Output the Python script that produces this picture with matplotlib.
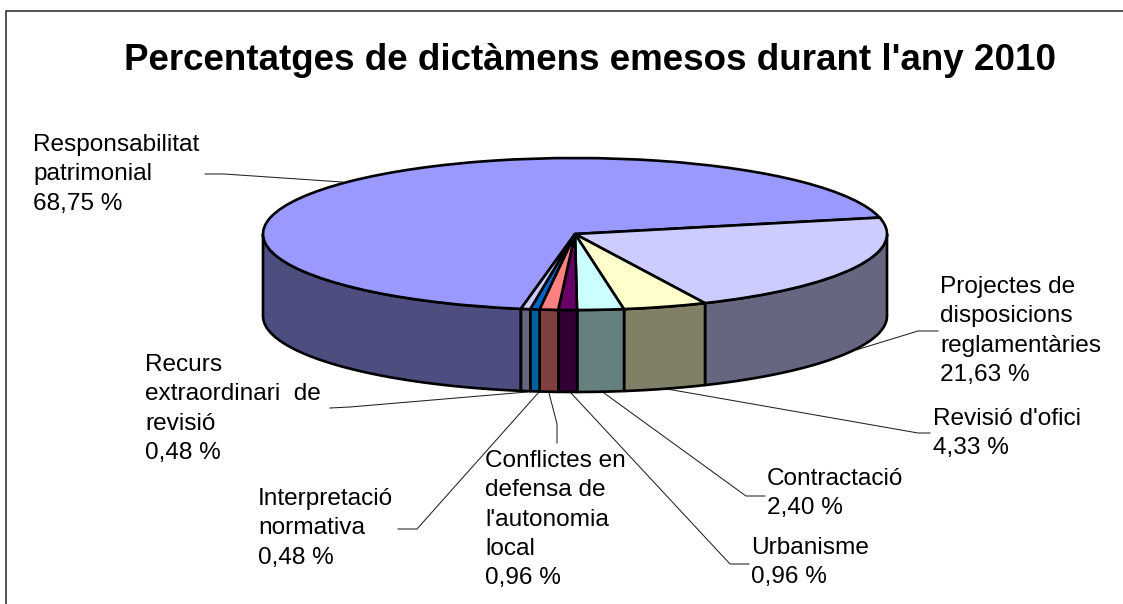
import numpy as np
import matplotlib
matplotlib.use("Agg")
import matplotlib.pyplot as plt
from matplotlib.lines import Line2D

# ---- data ----
title = "Percentatges de dictàmens emesos durant l'any 2010"
categories = ["Responsabilitat\npatrimonial", "Projectes de\ndisposicions\nreglamentàries",
              "Revisió d'ofici", "Contractació", "Urbanisme",
              "Conflictes en\ndefensa de\nl'autonomia\nlocal",
              "Interpretació\nnormativa", "Recurs\nextraordinari  de\nrevisió"]
values = [68.75, 21.63, 4.33, 2.40, 0.96, 0.96, 0.48, 0.48]

# ---- style / layout (pixels) ----
W, H = 1123, 604
top_colors = ["#9999FF", "#CCCCFF", "#FFFFCC", "#CCFFFF", "#660066", "#FF8080", "#0066CC", "#CCCCFF"]
side_colors = ["#4D4D80", "#666680", "#808066", "#668080", "#330033", "#804040", "#005F9F", "#666680"]
CX, CY, RX, RY, DEPTH = 575, 234, 312, 76, 82
START = 260
label_pos = [(33, 134), (940, 276), (933, 408), (767, 468), (751, 537), (485, 450), (258, 488), (145, 354)]
leaders = [
    [(205, 174), (224, 174), (342, 182)],
    [(938, 331), (918, 331), (856, 350)],
    [(930, 433), (918, 433), (667, 389)],
    [(765, 496), (746, 496), (604, 393)],
    [(749, 564), (730, 564), (571, 393)],
    [(557, 443), (557, 424), (549, 393)],
    [(398, 529), (417, 529), (539, 392)],
    [(330, 408), (350, 407), (527, 392)],
]

fig = plt.figure(figsize=(W / 100, H / 100), dpi=100, facecolor="white")
ax = fig.add_axes([0, 0, 1, 1])

def px(x, y):
    return (x - CX) / RX, (CY - y) / RY

lw_heavy = 1.9
d = DEPTH / RY

# top face, drawn by the library's pie from the values
ax.pie(values, colors=top_colors, startangle=START, counterclock=False,
       wedgeprops=dict(edgecolor="black", linewidth=lw_heavy), radius=1.0, center=(0, 0),
       normalize=True)
for w in ax.patches:
    w.set_zorder(5)
ax.set_aspect("auto")
ax.set_xlim(px(0, 0)[0], px(W, 0)[0])
ax.set_ylim(px(0, H)[1], px(0, 0)[1])
ax.axis("off")

# front wall: each slice's arc within the visible 180-360 degree half
edges = START - np.cumsum([0] + values) * 3.6
for i in range(len(values)):
    a1, a0 = edges[i], edges[i + 1]  # clockwise from a1 to a0
    if a1 < 0 or a0 < 0:
        lo_n, hi_n = a0 + 360, a1 + 360
    else:
        lo_n, hi_n = a0, a1
    hi_n = min(hi_n, 360)
    lo_n = max(lo_n, 180)
    if hi_n <= lo_n:
        continue
    t = np.radians(np.linspace(lo_n, hi_n, 120))
    xs = np.r_[np.cos(t), np.cos(t)[::-1]]
    ys = np.r_[np.sin(t), np.sin(t)[::-1] - d]
    ax.fill(xs, ys, facecolor=side_colors[i], edgecolor="black", linewidth=lw_heavy,
            joinstyle="round", zorder=3)

# leader lines
for pts in leaders:
    xy = np.array([px(*p) for p in pts])
    ax.plot(xy[:, 0], xy[:, 1], color="#222222", lw=0.75, zorder=2)

# chart frame: left and top edges only fall inside the picture
frame_x = [5.5 / W, 5.5 / W, 1.0]
frame_y = [0.0, 1 - 11 / H, 1 - 11 / H]
fig.add_artist(Line2D(frame_x, frame_y, transform=fig.transFigure, color="#222222", lw=1.1))

font = "Liberation Sans"
fig.text(590 / W, 1 - 60 / H, title, ha="center", va="center", family=font,
         fontsize=26.5, fontweight="bold", color="black")
for cat, v, (x, y) in zip(categories, values, label_pos):
    s = cat + "\n" + f"{v:.2f}".replace(".", ",") + " %"
    fig.text(x / W, 1 - y / H, s, ha="left", va="top", family=font, fontsize=17.6,
             linespacing=1.43, color="black")

fig.savefig("out.png", dpi=100)
